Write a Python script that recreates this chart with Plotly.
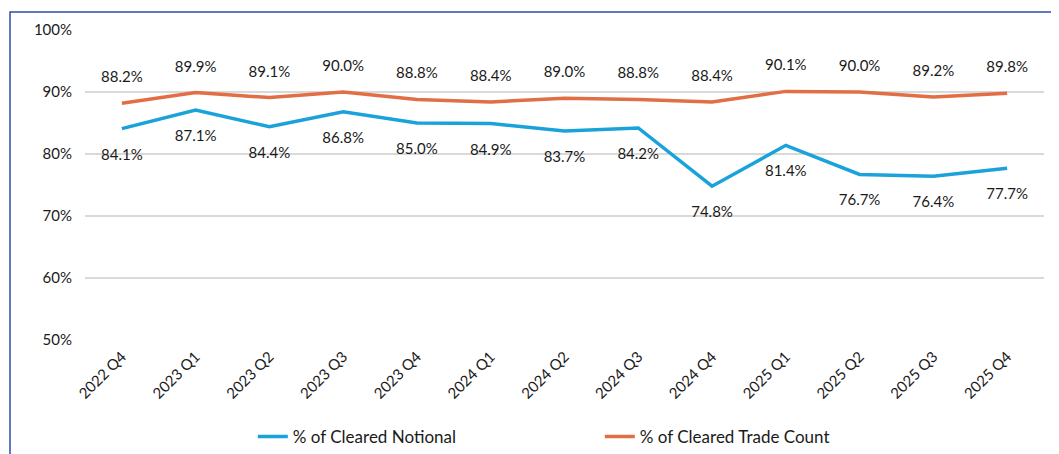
import plotly.graph_objects as go

quarters = ['2022 Q4', '2023 Q1', '2023 Q2', '2023 Q3', '2023 Q4', '2024 Q1', '2024 Q2',
            '2024 Q3', '2024 Q4', '2025 Q1', '2025 Q2', '2025 Q3', '2025 Q4']
cleared_notional = [84.1, 87.1, 84.4, 86.8, 85.0, 84.9, 83.7, 84.2, 74.8, 81.4, 76.7, 76.4, 77.7]
cleared_trade_count = [88.2, 89.9, 89.1, 90.0, 88.8, 88.4, 89.0, 88.8, 88.4, 90.1, 90.0, 89.2, 89.8]

BLUE = '#1AA3DA'
ORANGE = '#E26E45'
FONT = 'Lato, Noto Sans, sans-serif'

fig = go.Figure()
# invisible markers push the value labels away from the line
fig.add_trace(go.Scatter(
    x=quarters, y=cleared_notional, mode='lines+markers+text', name='% of Cleared Notional',
    line=dict(color=BLUE, width=3.5),
    marker=dict(size=30, color='rgba(0,0,0,0)'),
    text=[f'{v:.1f}%' for v in cleared_notional], textposition='bottom center',
    textfont=dict(size=15, color='#1a1a1a'),
    cliponaxis=False,
))
fig.add_trace(go.Scatter(
    x=quarters, y=cleared_trade_count, mode='lines+markers+text', name='% of Cleared Trade Count',
    line=dict(color=ORANGE, width=3.5),
    marker=dict(size=26, color='rgba(0,0,0,0)'),
    text=[f'{v:.1f}%' for v in cleared_trade_count], textposition='top center',
    textfont=dict(size=15, color='#1a1a1a'),
    cliponaxis=False,
))

# outer frame (left and top edges)
fig.add_shape(type='path', xref='paper', yref='paper',
              path='M -0.0782,-0.45 L -0.0782,1.058 L 1.03,1.058',
              line=dict(color='#2B4FA3', width=1.5))

fig.update_layout(
    width=1059, height=454,
    margin=dict(l=77, r=23, t=22, b=122, autoexpand=False),
    paper_bgcolor='white', plot_bgcolor='white',
    font=dict(family=FONT, size=15, color='#1a1a1a'),
    showlegend=True,
    legend=dict(orientation='h', x=0.175, xanchor='left', y=-0.313, yanchor='middle',
                entrywidth=302, entrywidthmode='pixels', itemwidth=30,
                font=dict(size=17)),
    xaxis=dict(range=[-0.5, 12.5], showgrid=False, showline=False, ticks='', tickangle=-45,
               tickfont=dict(size=15), ticklabelstandoff=4, automargin=False),
    yaxis=dict(range=[50, 100], dtick=10, ticksuffix='%', showgrid=True,
               gridcolor='#D9D9D9', gridwidth=1.5, zeroline=False,
               tickfont=dict(size=15), ticklabelstandoff=12, automargin=False),
)

fig.write_html('out.html')
